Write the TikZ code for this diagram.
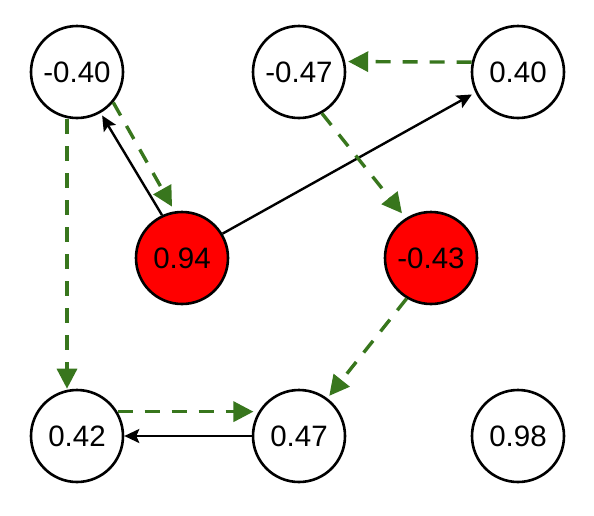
\documentclass[tikz,border=0pt]{standalone}
\usepackage{fontspec}
\setmainfont{Liberation Sans}
\usetikzlibrary{arrows.meta}
\definecolor{edgegreen}{RGB}{56,118,29}
\begin{document}
\begin{tikzpicture}[x=1pt,y=-1pt,
  vnode/.style={circle,draw=black,line width=2.6pt,fill=white,minimum size=92pt,inner sep=0pt,font=\fontsize{29.5}{31}\selectfont},
  hot/.style={vnode,fill=red},
  solidedge/.style={draw=black,line width=2.4pt,-{Stealth[length=15pt,width=14pt,inset=3pt]}},
  greenedge/.style={draw=edgegreen,line width=3.4pt,dash pattern=on 15pt off 12pt,-{Triangle[length=20pt,width=20pt]}}
]
\useasboundingbox (0,0) rectangle (594,515);
\node[vnode] (A) at (77,72) {-0.40};
\node[vnode] (B) at (299,72) {-0.47};
\node[vnode] (C) at (518,72) {0.40};
\node[hot] (D) at (182,258) {0.94};
\node[hot] (E) at (431,258) {-0.43};
\node[vnode] (F) at (77,436) {0.42};
\node[vnode] (G) at (299,436) {0.47};
\node[vnode] (H) at (518,436) {0.98};

\draw[solidedge] (D.115) -- ([shift={(-60:3pt)}]A.-60);
\draw[greenedge] (A.-40) -- ([shift={(101:5pt)}]D.101);
\draw[solidedge] (D.31) -- ([shift={(206:4pt)}]C.206);
\draw[greenedge] (C.168) -- ([shift={(12:3pt)}]B.12);
\draw[greenedge] (B.-61) -- ([shift={(123:6pt)}]E.123);
\draw[greenedge] (E.239) -- ([shift={(53:3pt)}]G.53);
\draw[greenedge] ([xshift=-10pt]A.south) -- ([xshift=-10pt]F.north);
\draw[greenedge] (F.31) -- ([xshift=-5pt]G.149);
\draw[solidedge] (G.west) -- (F.east);
\end{tikzpicture}
\end{document}
